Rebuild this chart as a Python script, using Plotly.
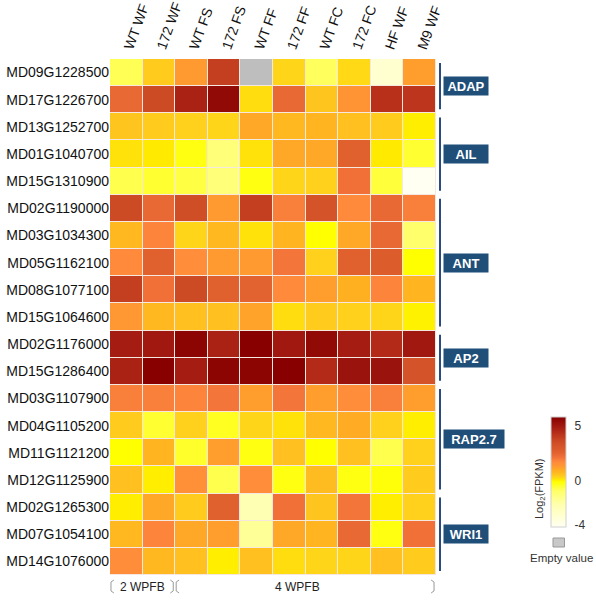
import plotly.graph_objects as go

genes = ["MD09G1228500", "MD17G1226700", "MD13G1252700", "MD01G1040700", "MD15G1310900",
         "MD02G1190000", "MD03G1034300", "MD05G1162100", "MD08G1077100", "MD15G1064600",
         "MD02G1176000", "MD15G1286400", "MD03G1107900", "MD04G1105200", "MD11G1121200",
         "MD12G1125900", "MD02G1265300", "MD07G1054100", "MD14G1076000"]
samples = ["WT WF", "172 WF", "WT FS", "172 FS", "WT FF", "172 FF", "WT FC", "172 FC", "HF WF", "M9 WF"]

values = [
    [-0.74, 0.48, 1.34, 3.94, None, 0.33, -0.81, 0.29, -3.13, 1.26],
    [2.38, 3.65, 4.78, 5.55, 0.25, 2.38, 0.56, 1.50, 4.36, 4.22],
    [0.56, 0.48, 0.41, 0.33, 1.10, 0.78, 0.86, 0.63, 0.48, 0.09],
    [0.21, 0.13, -0.21, -1.23, 0.21, 1.10, 1.10, 2.65, 0.13, -0.47],
    [-0.68, -0.47, -0.61, -1.23, -0.21, 0.33, 0.41, 2.19, -0.54, -4.20],
    [3.65, 2.38, 3.45, 1.34, 3.94, 1.92, 3.25, 1.74, 2.38, 1.92],
    [0.78, 1.83, 0.33, 0.78, 0.21, 0.86, -0.07, 1.10, 2.38, -0.96],
    [1.74, 2.65, 1.66, 1.34, 1.34, 2.10, 0.41, 2.65, 2.85, -0.07],
    [3.94, 2.19, 3.65, 2.65, 2.56, 1.74, 1.26, 0.94, 1.83, 0.86],
    [1.42, 0.78, 0.63, 0.63, 1.18, 0.25, 0.48, 0.41, 0.33, 0.05],
    [4.92, 5.06, 5.71, 4.78, 5.87, 5.06, 5.55, 4.92, 4.50, 5.06],
    [4.78, 5.87, 4.92, 5.71, 5.71, 5.87, 4.50, 5.23, 5.23, 3.25],
    [1.92, 1.92, 1.83, 2.10, 1.26, 2.10, 1.26, 1.66, 1.92, 1.26],
    [0.48, -0.47, 0.41, -0.34, 0.33, 0.21, 0.78, 1.02, 0.41, 0.09],
    [-0.07, 0.86, -0.41, 1.26, -0.21, 0.63, -0.07, 0.63, -0.68, 0.41],
    [0.63, 0.09, 1.58, -0.68, 1.66, -0.21, 0.71, -0.21, -0.14, 0.48],
    [0.09, 1.10, 0.48, 2.65, -2.32, 2.19, 0.56, 2.10, 0.09, 0.41],
    [0.78, 1.83, 1.10, 1.26, -1.75, 1.10, 0.86, 2.38, -0.21, 2.19],
    [1.66, 0.78, 0.63, 0.09, 0.63, 0.25, 0.33, 0.33, 0.63, 0.48],
]

groups = ["ADAP", "AIL", "ANT", "AP2", "RAP2.7", "WRI1"]
group_start = [0, 2, 5, 10, 12, 16]
group_end = [1, 4, 9, 11, 15, 18]

stage_labels = ["2 WPFB", "4 WPFB"]
stage_start = [0, 2]
stage_end = [1, 9]

colorbar_ticks = [5, 0, -4]
zmin, zmax = -4.2, 5.87

colorscale = [
    [0.0, "#FFFFF2"], [0.2, "#FFFFB0"], [0.33, "#FFFF66"], [0.41, "#FFFF00"],
    [0.43, "#FFEA00"], [0.45, "#FFD51A"], [0.48, "#FFC020"], [0.51, "#FFB020"],
    [0.55, "#FF9A30"], [0.59, "#FF8A3C"], [0.635, "#F07038"], [0.68, "#E0602E"],
    [0.78, "#CC4A24"], [0.85, "#B8301A"], [0.92, "#A01810"], [1.0, "#880000"],
]

# plot area in pixels
L, R, T, B = 110, 436, 59, 575
W, H = 596, 600
def px_x(p):
    return (p - L) / (R - L)
def px_y(p):
    return (B - p) / (B - T)

fig = go.Figure()
fig.add_trace(go.Heatmap(
    z=values, x=samples, y=genes, colorscale=colorscale, zmin=zmin, zmax=zmax,
    xgap=1, ygap=1, hoverongaps=False,
    colorbar=dict(
        thickness=15, len=110, lenmode="pixels",
        x=px_x(550.7), xanchor="left", y=px_y(471.7), yanchor="middle",
        tickvals=colorbar_ticks, ticktext=[str(t) for t in colorbar_ticks],
        ticks="outside", ticklen=6, tickcolor="rgba(0,0,0,0)",
        tickfont=dict(size=12, color="#333", family="Arial, Liberation Sans"),
        outlinewidth=1, outlinecolor="#D0D0D0", xpad=0, ypad=0,
    ),
))

# missing-value cells in gray
missing = [[1 if v is None else None for v in row] for row in values]
fig.add_trace(go.Heatmap(
    z=missing, x=samples, y=genes, colorscale=[[0, "#BEBEBE"], [1, "#BEBEBE"]],
    showscale=False, xgap=1, ygap=1, hoverinfo="skip",
))

shapes = []
annotations = []
nav = "#2B4A80"
box = "#1F4E79"
for g, s, e in zip(groups, group_start, group_end):
    shapes.append(dict(type="line", xref="paper", yref="y", x0=px_x(440), x1=px_x(440),
                       y0=s - 0.35, y1=e + 0.35, line=dict(color=nav, width=2)))
    annotations.append(dict(
        xref="paper", yref="y", x=px_x(442.5), xanchor="left", y=(s + e) / 2, yanchor="middle",
        text="<b>%s</b>" % g, showarrow=False, bgcolor=box,
        font=dict(color="white", size=13, family="Arial, Liberation Sans"),
        width=60 if len(g) > 4 else 44, height=18, borderpad=0,
    ))

for lab, s, e in zip(stage_labels, stage_start, stage_end):
    x0 = s - 0.5 + 0.03
    x1 = e + 0.5 - 0.06
    y0, y1 = px_y(580), px_y(593)
    for xb, d in ((x0, 1), (x1, -1)):
        shapes.append(dict(
            type="path", xref="x", yref="paper",
            path="M %f,%f L %f,%f L %f,%f L %f,%f" % (
                xb + d * 0.09, y0, xb, y0 - 0.004, xb, y1 + 0.004, xb + d * 0.09, y1),
            line=dict(color="#999", width=1)))
    cx = (s + e) / 2 if e - s < 3 else 5.25
    annotations.append(dict(xref="x", yref="paper", x=cx, xanchor="center",
                            y=px_y(586.5), yanchor="middle",
                            text=lab, showarrow=False,
                            font=dict(size=12, color="#222", family="Arial, Liberation Sans")))

# colorbar title and empty-value legend
annotations.append(dict(xref="paper", yref="paper", x=px_x(540), xanchor="center",
                        y=px_y(489), yanchor="middle", textangle=-90,
                        text="Log<sub>2</sub>(FPKM)", showarrow=False,
                        font=dict(size=11, color="#333", family="Arial, Liberation Sans")))
shapes.append(dict(type="rect", xref="paper", yref="paper", x0=px_x(553), x1=px_x(564.5),
                   y0=px_y(547), y1=px_y(538), fillcolor="#C8C8C8", line=dict(color="#999", width=1)))
annotations.append(dict(xref="paper", yref="paper", x=px_x(561.5), xanchor="center",
                        y=px_y(557.5), yanchor="middle",
                        text="Empty value", showarrow=False,
                        font=dict(size=11.5, color="#333", family="Arial, Liberation Sans")))

fig.update_layout(
    width=W, height=H, margin=dict(l=L, r=W - R, t=T, b=H - B, autoexpand=False),
    plot_bgcolor="#F4E8E0", paper_bgcolor="white",
    shapes=shapes, annotations=annotations,
    xaxis=dict(side="top", tickangle=-70, showgrid=False, zeroline=False, ticks="",
               automargin=False,
               tickfont=dict(size=14, color="#111", family="Arial, Liberation Sans")),
    yaxis=dict(autorange="reversed", showgrid=False, zeroline=False, ticks="",
               automargin=False,
               tickfont=dict(size=14, color="#111", family="Arial, Liberation Sans")),
)

fig.write_html("out.html", config={"displayModeBar": False},
               post_script="document.body.style.margin='0';document.body.style.padding='0';")
